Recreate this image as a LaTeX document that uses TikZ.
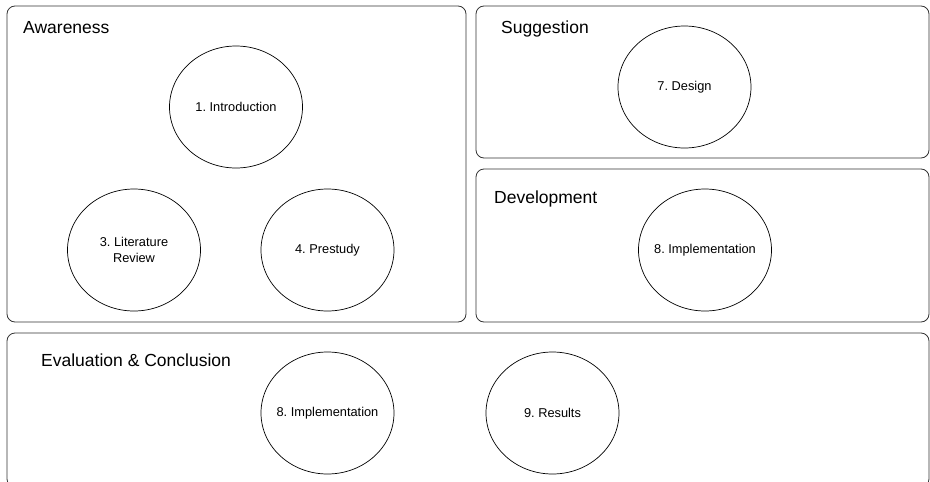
\documentclass[tikz,border=0pt]{standalone}
\usepackage{fontspec}
\setmainfont{Liberation Sans}
\usetikzlibrary{shapes}
\frenchspacing

\begin{document}
\begin{tikzpicture}[x=1pt,y=-1pt]

		\tikzstyle{every node}=[font=\fontsize{12.8}{16}\selectfont]
		\tikzstyle{phase}=[draw=black!80,line width=0.8pt,rounded corners=8pt]
		\tikzstyle{phasetitle}=[anchor=base west,inner sep=0pt,font=\fontsize{17.5}{20}\selectfont]
		\tikzstyle{chapter}=[draw,ellipse,line width=0.7pt,minimum width=133pt,minimum height=122pt,inner sep=-15pt,align=center]

		\useasboundingbox (0,0) rectangle (930,482);

		% phases
		\draw[phase] (7,6) rectangle (466,322);
		\draw[phase] (476,6) rectangle (929,158);
		\draw[phase] (476,169) rectangle (929,322);
		\draw[phase] (7,333) rectangle (929,487);

		\node[phasetitle] (awareness) at (23,33) {Awareness};
		\node[phasetitle] (suggestion) at (501,33) {Suggestion};
		\node[phasetitle] (development) at (494,203) {Development};
		\node[phasetitle] (evaluation) at (41,366) {Evaluation \& Conclusion};

		% chapters
		\node[chapter] (intro) at (236,107) {1. Introduction};
		\node[chapter] (litreview) at (134,250) {3. Literature\\Review};
		\node[chapter] (prestudy) at (327.5,250) {4. Prestudy};

		\node[chapter] (design) at (684.5,87) {7. Design};
		\node[chapter] (impldev) at (705,250) {8. Implementation};

		\node[chapter] (impleval) at (327.5,413) {8. Implementation};
		\node[chapter] (results) at (552.5,413) {9. Results};

\end{tikzpicture}
\end{document}
